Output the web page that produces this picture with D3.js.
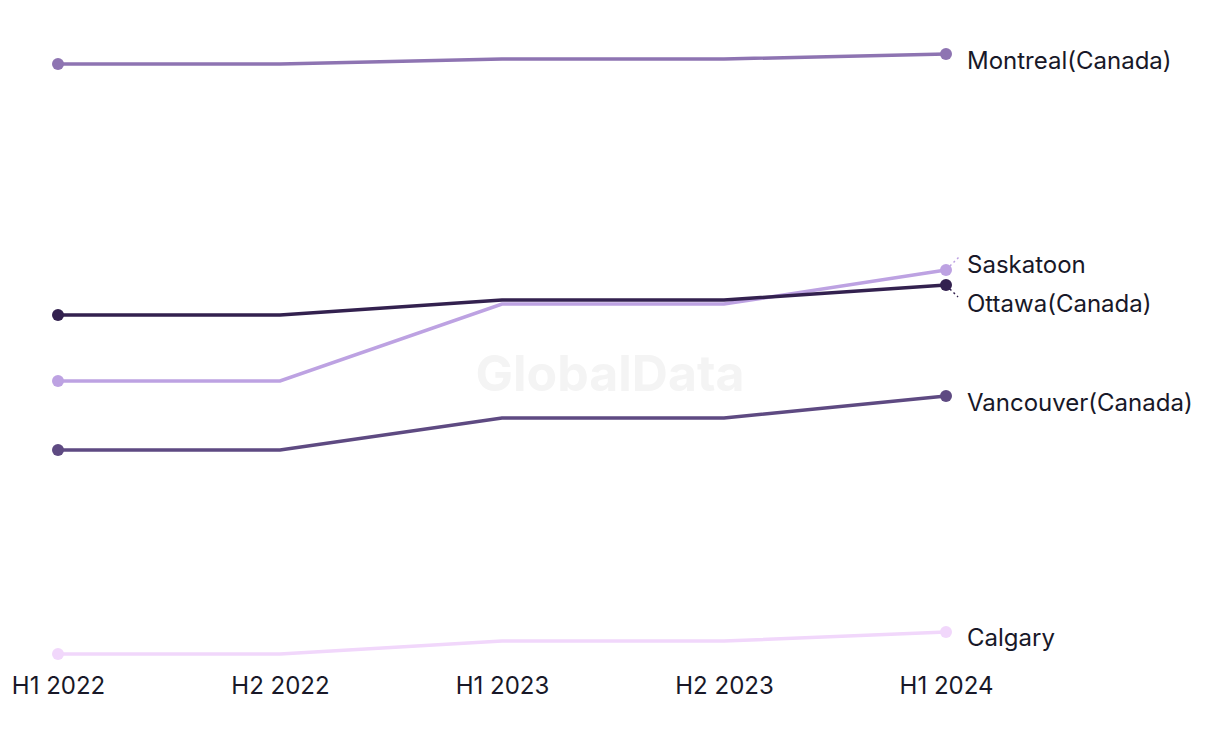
<!DOCTYPE html>
<html><head><meta charset="utf-8">
<script src="https://cdn.jsdelivr.net/npm/d3@7"></script>
<style>body{margin:0;background:#fff;}svg{display:block;}</style>
</head><body>
<svg id="c" width="1220" height="744"></svg>
<script>
const periods = ["H1 2022","H2 2022","H1 2023","H2 2023","H1 2024"];
const montreal  = [118, 118, 119, 119, 120];
const ottawa    = [67.8, 67.8, 70.8, 70.8, 73.8];
const saskatoon = [54.6, 54.6, 70, 70, 76.8];
const vancouver = [40.8, 40.8, 47.2, 47.2, 51.6];
const calgary   = [0, 0, 2.6, 2.6, 4.4];
const seriesNames = ["Montreal(Canada)","Saskatoon","Ottawa(Canada)","Vancouver(Canada)","Calgary"];
const seriesColors = ["#8e74b2","#bda2e2","#33214f","#5e4a82","#f1d7fb"];
const seriesValues = [montreal, saskatoon, ottawa, vancouver, calgary];
const labelShift = [6, -6, 18, 6, 5];

const svg = d3.select("#c");
const x = d3.scalePoint().domain(periods).range([58, 946]);
const y = d3.scaleLinear().domain([0, 120]).range([654, 54]);

svg.append("text").attr("x", 610).attr("y", 373).attr("text-anchor","middle")
  .attr("dominant-baseline","central").attr("font-family","Inter, 'Open Sans', sans-serif")
  .attr("font-weight",700).attr("font-size",50).attr("fill","#f4f4f4").text("GlobalData");

const axis = d3.axisBottom(x).tickSize(0).tickPadding(0);
const ax = svg.append("g").attr("transform","translate(0,677)").call(axis);
ax.select(".domain").remove();
ax.selectAll("text").attr("font-family","Inter, sans-serif").attr("font-size",24)
  .attr("fill","#181828").attr("dy","0.71em");

const line = d3.line().x((d,i)=>x(periods[i])).y(d=>y(d));
seriesValues.forEach((vals, k) => {
  const g = svg.append("g");
  g.append("path").attr("d", line(vals)).attr("fill","none")
    .attr("stroke", seriesColors[k]).attr("stroke-width",3.5);
  [0, vals.length-1].forEach(i => {
    g.append("circle").attr("cx", x(periods[i])).attr("cy", y(vals[i])).attr("r",6)
      .attr("fill", seriesColors[k]);
  });
  const last = vals[vals.length-1];
  const ly = y(last) + labelShift[k];
  g.append("text").attr("x", 967).attr("y", ly).attr("dominant-baseline","central")
    .attr("font-family","Inter, sans-serif").attr("font-size",24).attr("fill","#181828")
    .text(seriesNames[k]);
});
// connectors for the shifted labels
const cx = x(periods[4]);
svg.append("line").attr("x1", cx+4).attr("y1", y(saskatoon[4])-4).attr("x2", cx+14).attr("y2", y(saskatoon[4])-14)
  .attr("stroke", seriesColors[1]).attr("stroke-width",1.5).attr("stroke-dasharray","2,3");
svg.append("line").attr("x1", cx+4).attr("y1", y(ottawa[4])+4).attr("x2", cx+12).attr("y2", y(ottawa[4])+12)
  .attr("stroke", seriesColors[2]).attr("stroke-width",1.5).attr("stroke-dasharray","2,3");
</script>
</body></html>
